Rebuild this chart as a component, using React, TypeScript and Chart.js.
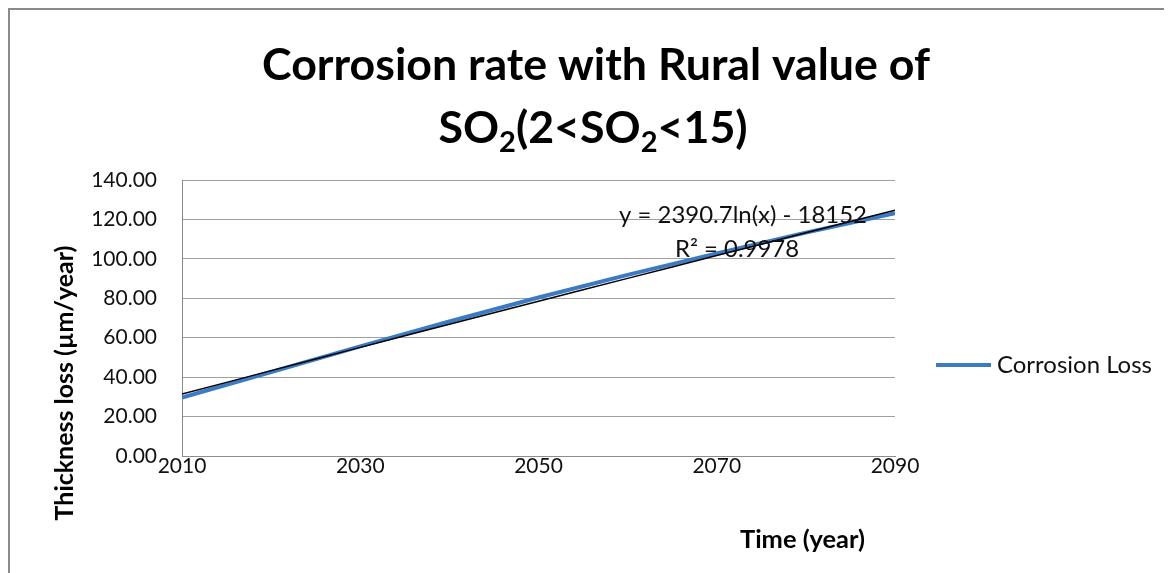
import React, { useEffect, useRef } from "react";
import { Chart, registerables } from "chart.js";

Chart.register(...registerables);

// ---- data ----
const years = [2010, 2020, 2030, 2040, 2050, 2060, 2070, 2080, 2090];
const corrosionLoss = [29.6, 42.6, 55.6, 68.2, 80.4, 91.9, 102.8, 113.3, 123.2];
const trendValues = [31.4, 43.3, 55.1, 66.8, 78.5, 90.1, 101.7, 113.2, 124.7];
const yTicks = [0, 20, 40, 60, 80, 100, 120, 140];
const xTicks = [2010, 2030, 2050, 2070, 2090];
const seriesLabel = "Corrosion Loss";
const titleLine1 = "Corrosion rate with Rural value of";
const titleLine2Parts: [string, boolean][] = [
  ["SO", false],
  ["2", true],
  ["(2<SO", false],
  ["2", true],
  ["<15)", false],
];
const trendLine1 = "y = 2390.7ln(x) - 18152";
const trendLine2 = "R² = 0.9978";
const xTitle = "Time (year)";
const yTitle = "Thickness loss (µm/year)";

const FONT = "Lato, 'Open Sans', 'DejaVu Sans', sans-serif";
const BLUE = "#3b7bc4";
const TEXT = "#111111";

function fitSize(ctx: CanvasRenderingContext2D, text: string, weight: string, target: number) {
  ctx.font = `${weight} 40px ${FONT}`;
  const w = ctx.measureText(text).width;
  return (40 * target) / w;
}

const overlayPlugin = {
  id: "overlay",
  afterDraw(chart: any) {
    const ctx: CanvasRenderingContext2D = chart.ctx;
    ctx.save();
    ctx.fillStyle = "#000";
    ctx.textAlign = "left";
    ctx.textBaseline = "alphabetic";

    // Title
    const ts = fitSize(ctx, titleLine1, "bold", 668);
    ctx.font = `bold ${ts}px ${FONT}`;
    ctx.textAlign = "center";
    ctx.fillText(titleLine1, 586, 70);
    // line 2 with subscripts
    const subSize = ts * 0.65;
    let total = 0;
    const widths = titleLine2Parts.map(([t, sub]) => {
      ctx.font = `bold ${sub ? subSize : ts}px ${FONT}`;
      const w = ctx.measureText(t).width;
      total += w;
      return w;
    });
    let x = 583 - total / 2;
    ctx.textAlign = "left";
    titleLine2Parts.forEach(([t, sub], i) => {
      ctx.font = `bold ${sub ? subSize : ts}px ${FONT}`;
      ctx.fillText(t, x, 133 + (sub ? ts * 0.2 : 0));
      x += widths[i];
    });

    // Trendline label
    ctx.fillStyle = TEXT;
    const ls = fitSize(ctx, trendLine1, "normal", 248);
    ctx.font = `normal ${ls}px ${FONT}`;
    ctx.textAlign = "center";
    ctx.fillText(trendLine1, 733, 213);
    ctx.fillText(trendLine2, 727, 247);

    // Legend
    ctx.strokeStyle = BLUE;
    ctx.lineWidth = 4;
    ctx.beginPath();
    ctx.moveTo(926, 355);
    ctx.lineTo(981, 355);
    ctx.stroke();
    const gs = fitSize(ctx, seriesLabel, "normal", 155);
    ctx.font = `normal ${gs}px ${FONT}`;
    ctx.textAlign = "left";
    ctx.fillText(seriesLabel, 987, 363);

    // Axis titles
    ctx.fillStyle = "#000";
    const xs = fitSize(ctx, xTitle, "bold", 125);
    ctx.font = `bold ${xs}px ${FONT}`;
    ctx.fillText(xTitle, 730, 538);

    const ys = fitSize(ctx, yTitle, "bold", 275);
    ctx.font = `bold ${ys}px ${FONT}`;
    ctx.translate(55, 373);
    ctx.rotate(-Math.PI / 2);
    ctx.textAlign = "center";
    ctx.textBaseline = "middle";
    ctx.fillText(yTitle, 0, 0);
    ctx.restore();
  },
};

export default function App() {
  const ref = useRef<HTMLCanvasElement | null>(null);
  useEffect(() => {
    document.body.style.overflow = "hidden";
    const canvas = ref.current;
    if (!canvas) return;
    const chart = new Chart(canvas, {
      type: "line",
      data: {
        datasets: [
          {
            label: seriesLabel,
            data: years.map((y, i) => ({ x: y, y: corrosionLoss[i] })),
            borderColor: BLUE,
            backgroundColor: BLUE,
            borderWidth: 4,
            pointRadius: 0,
            tension: 0,
            order: 1,
          },
          {
            label: "trend",
            data: years.map((y, i) => ({ x: y, y: trendValues[i] })),
            borderColor: "#000",
            borderWidth: 1.5,
            pointRadius: 0,
            tension: 0.4,
            order: 0,
          },
        ],
      },
      options: {
        responsive: false,
        animation: false,
        devicePixelRatio: 1,
        layout: { padding: { left: 0, top: 170, right: 277, bottom: 77 } },
        plugins: {
          legend: { display: false },
          title: { display: false },
          tooltip: { enabled: false },
        },
        scales: {
          x: {
            type: "linear",
            min: 2010,
            max: 2090,
            afterFit: (s: any) => {
              s.height = 40;
            },
            afterBuildTicks: (s: any) => {
              s.ticks = xTicks.map((v) => ({ value: v }));
            },
            ticks: {
              padding: 0,
              color: TEXT,
              font: { family: FONT, size: 21, lineHeight: 1 },
              maxRotation: 0,
              callback: (v: any) => String(v),
            },
            grid: { display: false, drawTicks: false },
            border: { display: true, color: "#8c8c8c", width: 1 },
          },
          y: {
            min: 0,
            max: 140,
            afterFit: (s: any) => {
              s.width = 172;
            },
            afterBuildTicks: (s: any) => {
              s.ticks = yTicks.map((v) => ({ value: v }));
            },
            ticks: {
              padding: 25,
              color: TEXT,
              font: { family: FONT, size: 21, lineHeight: 1 },
              callback: (v: any) => Number(v).toFixed(2),
            },
            grid: { color: "#a0a0a0", lineWidth: 1, drawTicks: false },
            border: { display: true, color: "#8c8c8c", width: 1 },
          },
        },
      },
      plugins: [overlayPlugin],
    });
    return () => chart.destroy();
  }, []);

  return (
    <div
      style={{
        width: 1164,
        height: 565,
        boxSizing: "border-box",
        borderTop: "2px solid #8a8a8a",
        borderLeft: "2px solid #8a8a8a",
        background: "#fff",
      }}
    >
      <canvas ref={ref} width={1162} height={563} style={{ display: "block" }} />
    </div>
  );
}
